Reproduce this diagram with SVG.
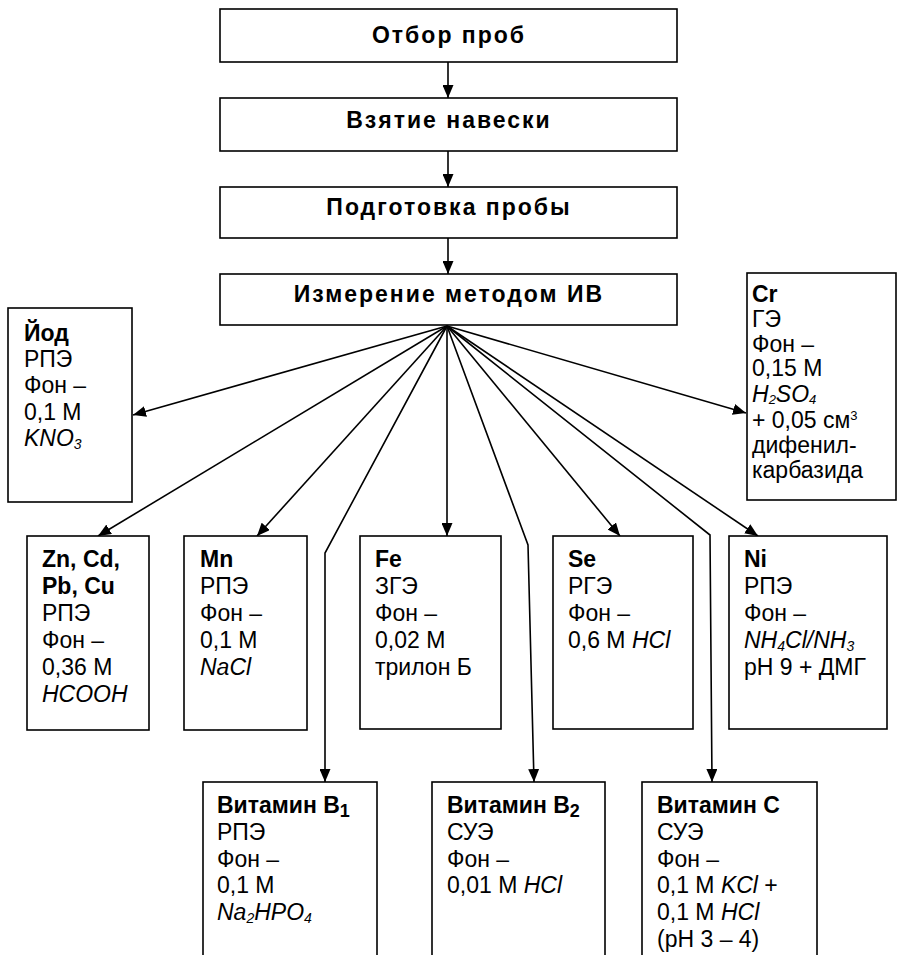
<svg xmlns="http://www.w3.org/2000/svg" width="898" height="955" viewBox="0 0 898 955">
<defs>
<marker id="ah" markerWidth="13" markerHeight="11" refX="13" refY="5.5" orient="auto" markerUnits="userSpaceOnUse">
<path d="M0,0 L13,5.5 L0,11 Z" fill="#000"/>
</marker>
<style>
.box{fill:#fff;stroke:#000;stroke-width:1.6}
.ln{fill:none;stroke:#000;stroke-width:1.6;marker-end:url(#ah)}
text{font-family:"Liberation Sans",Arial,sans-serif;font-size:23px;fill:#000}
.h{font-weight:bold;font-size:23px;letter-spacing:2px;text-anchor:middle}
.b{font-weight:bold}
.i{font-style:italic}
.s{font-size:14px}
.t{font-size:13px}
</style>
</defs>
<rect width="898" height="955" fill="#fff"/>
<g id="connectors">
<line class="ln" x1="448" y1="62" x2="448" y2="98"/>
<line class="ln" x1="448" y1="151" x2="448" y2="187"/>
<line class="ln" x1="448" y1="238" x2="448" y2="274"/>
<line class="ln" x1="447" y1="326" x2="133" y2="415"/>
<line class="ln" x1="447" y1="326" x2="98" y2="536"/>
<line class="ln" x1="447" y1="326" x2="257" y2="536"/>
<polyline class="ln" points="447,326 325,553 325,782"/>
<line class="ln" x1="447" y1="326" x2="447" y2="536"/>
<polyline class="ln" points="447,326 528,545 534,782"/>
<line class="ln" x1="447" y1="326" x2="620" y2="536"/>
<polyline class="ln" points="447,326 710,535 712,782"/>
<line class="ln" x1="447" y1="326" x2="758" y2="536"/>
<line class="ln" x1="447" y1="326" x2="746" y2="413"/>
</g>
<g id="n1"><rect class="box" x="220" y="9" width="457" height="53"/><text class="h" x="449" y="43">Отбор проб</text></g>
<g id="n2"><rect class="box" x="220" y="98" width="457" height="53"/><text class="h" x="449" y="128">Взятие навески</text></g>
<g id="n3"><rect class="box" x="220" y="187" width="457" height="51"/><text class="h" x="449" y="215">Подготовка пробы</text></g>
<g id="n4"><rect class="box" x="220" y="274" width="457" height="51"/><text class="h" x="449" y="302">Измерение методом ИВ</text></g>
<g id="iod"><rect class="box" x="8" y="308" width="124" height="194"/>
<text x="24" y="341"><tspan class="b">Йод</tspan><tspan x="24" y="367">РПЭ</tspan><tspan x="24" y="393">Фон –</tspan><tspan x="24" y="420">0,1 М</tspan><tspan x="24" y="446" class="i">KNO<tspan class="s" dy="3">3</tspan></tspan></text></g>
<g id="cr"><rect class="box" x="747" y="273" width="149" height="227"/>
<text x="752" y="302"><tspan class="b">Cr</tspan><tspan x="752" y="327">ГЭ</tspan><tspan x="752" y="352">Фон –</tspan><tspan x="752" y="376">0,15 М</tspan><tspan x="752" y="402" class="i">H<tspan class="t" dy="2">2</tspan><tspan dy="-2">SO</tspan><tspan class="t" dy="2">4</tspan></tspan><tspan x="752" y="428">+ 0,05 см</tspan><tspan class="t" dy="-8">3</tspan><tspan x="752" y="453">дифенил-</tspan><tspan x="752" y="478">карбазида</tspan></text></g>
<g id="zn"><rect class="box" x="27" y="536" width="122" height="194"/>
<text x="42" y="567"><tspan class="b">Zn, Cd,</tspan><tspan x="42" y="594" class="b">Pb, Cu</tspan><tspan x="42" y="621">РПЭ</tspan><tspan x="42" y="648">Фон –</tspan><tspan x="42" y="675">0,36 М</tspan><tspan x="42" y="702" class="i">HCOOH</tspan></text></g>
<g id="mn"><rect class="box" x="184" y="536" width="123" height="194"/>
<text x="200" y="567"><tspan class="b">Mn</tspan><tspan x="200" y="594">РПЭ</tspan><tspan x="200" y="621">Фон –</tspan><tspan x="200" y="648">0,1 М</tspan><tspan x="200" y="675" class="i">NaCl</tspan></text></g>
<g id="fe"><rect class="box" x="360" y="536" width="141" height="193"/>
<text x="375" y="567"><tspan class="b">Fe</tspan><tspan x="375" y="594">ЗГЭ</tspan><tspan x="375" y="621">Фон –</tspan><tspan x="375" y="648">0,02 М</tspan><tspan x="375" y="675">трилон Б</tspan></text></g>
<g id="se"><rect class="box" x="553" y="536" width="140" height="193"/>
<text x="568" y="567"><tspan class="b">Se</tspan><tspan x="568" y="594">РГЭ</tspan><tspan x="568" y="621">Фон –</tspan><tspan x="568" y="648">0,6 М <tspan class="i">HCl</tspan></tspan></text></g>
<g id="ni"><rect class="box" x="729" y="536" width="158" height="193"/>
<text x="744" y="567"><tspan class="b">Ni</tspan><tspan x="744" y="594">РПЭ</tspan><tspan x="744" y="621">Фон –</tspan><tspan x="744" y="648" class="i">NH<tspan class="s" dy="3">4</tspan><tspan dy="-3">Cl/NH</tspan><tspan class="s" dy="3">3</tspan></tspan><tspan x="744" y="675">pH 9 + ДМГ</tspan></text></g>
<g id="b1"><rect class="box" x="203" y="782" width="174" height="190"/>
<text x="217" y="813"><tspan class="b">Витамин B<tspan font-size="18" dy="4">1</tspan></tspan><tspan x="217" y="840">РПЭ</tspan><tspan x="217" y="867">Фон –</tspan><tspan x="217" y="893">0,1 М</tspan><tspan x="217" y="920" class="i">Na<tspan class="s" dy="3">2</tspan><tspan dy="-3">HPO</tspan><tspan class="s" dy="3">4</tspan></tspan></text></g>
<g id="b2"><rect class="box" x="432" y="782" width="173" height="190"/>
<text x="447" y="813"><tspan class="b">Витамин B<tspan font-size="18" dy="4">2</tspan></tspan><tspan x="447" y="840">СУЭ</tspan><tspan x="447" y="867">Фон –</tspan><tspan x="447" y="893">0,01 М <tspan class="i">HCl</tspan></tspan></text></g>
<g id="vc"><rect class="box" x="642" y="782" width="175" height="190"/>
<text x="657" y="813"><tspan class="b">Витамин C</tspan><tspan x="657" y="840">СУЭ</tspan><tspan x="657" y="867">Фон –</tspan><tspan x="657" y="893">0,1 М <tspan class="i">KCl</tspan> +</tspan><tspan x="657" y="920">0,1 М <tspan class="i">HCl</tspan></tspan><tspan x="657" y="947">(pH 3 – 4)</tspan></text></g>
</svg>
